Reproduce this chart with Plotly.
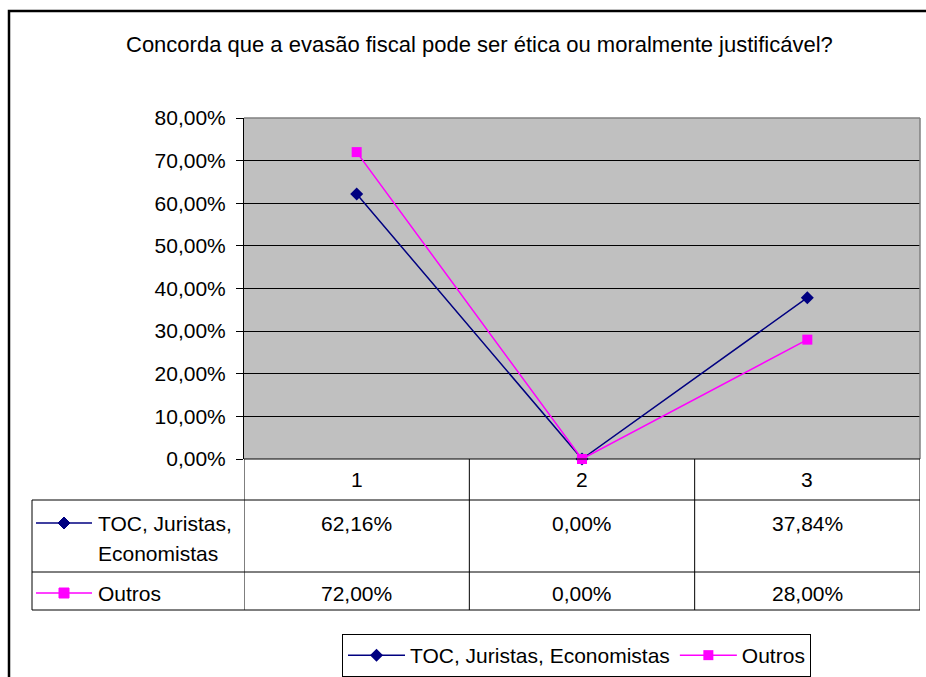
import plotly.graph_objects as go

categories = ["1", "2", "3"]
series_names = ["TOC, Juristas, Economistas", "Outros"]
toc_values = [0.6216, 0.0, 0.3784]
outros_values = [0.72, 0.0, 0.28]
y_ticks = [0, 0.1, 0.2, 0.3, 0.4, 0.5, 0.6, 0.7, 0.8]
title_text = "Concorda que a evasão fiscal pode ser ética ou moralmente justificável?"

W, H = 926, 677
FONT = "Liberation Sans, Arial, sans-serif"
FS = 21
NAVY = "#000080"
MAGENTA = "#FF00FF"

def px(x):
    return x / W

def py(y):
    return 1 - y / H

plot_left, plot_right, plot_top, plot_bottom = 244, 920, 118, 459

fig = go.Figure()
xs = [1, 2, 3]
fig.add_trace(go.Scatter(x=xs, y=toc_values, name=series_names[0], mode="lines+markers",
                         line=dict(color=NAVY, width=1.5),
                         marker=dict(symbol="diamond", size=10, color=NAVY), cliponaxis=False))
fig.add_trace(go.Scatter(x=xs, y=outros_values, name=series_names[1], mode="lines+markers",
                         line=dict(color=MAGENTA, width=1.5),
                         marker=dict(symbol="square", size=10, color=MAGENTA), cliponaxis=False))

fig.update_layout(
    width=W, height=H,
    margin=dict(l=0, r=0, t=0, b=0, autoexpand=False),
    paper_bgcolor="white",
    plot_bgcolor="#C0C0C0",
    separators=",.",
    font=dict(family=FONT, size=FS, color="black"),
    showlegend=True,
    legend=dict(orientation="h", x=px(342), y=py(634), xanchor="left", yanchor="top",
                bordercolor="black", borderwidth=1, bgcolor="white",
                font=dict(family=FONT, size=FS), itemwidth=57, tracegroupgap=0),
    xaxis=dict(domain=[px(plot_left), px(plot_right)], range=[0.5, 3.5],
               tickvals=xs, showticklabels=False, showgrid=False, zeroline=False,
               showline=False, ticks="", fixedrange=True),
    yaxis=dict(domain=[py(plot_bottom), py(plot_top)], range=[0, 0.8],
               tickvals=y_ticks, tickformat=".2%", showgrid=True, gridcolor="#000000",
               gridwidth=1, zeroline=False, showline=True, linecolor="black", linewidth=1,
               ticks="outside", ticklen=7, tickcolor="black", ticklabelstandoff=6,
               tickfont=dict(family=FONT, size=FS), fixedrange=True),
)

shapes = []
# outer chart frame
shapes.append(dict(type="rect", xref="paper", yref="paper", x0=px(9), x1=px(940), y0=py(11), y1=py(700),
                   line=dict(color="black", width=2.5)))
# plot area border (gray) top and right
shapes.append(dict(type="line", xref="paper", yref="paper", x0=px(plot_left), x1=px(plot_right),
                   y0=py(plot_top), y1=py(plot_top), line=dict(color="#808080", width=1.5)))
shapes.append(dict(type="line", xref="paper", yref="paper", x0=px(plot_right), x1=px(plot_right),
                   y0=py(plot_top), y1=py(plot_bottom), line=dict(color="#808080", width=1.5)))
# table grid
row_lines = [459, 500, 572, 610]
table_left = 32
for i, y in enumerate(row_lines):
    x0 = plot_left if i == 0 else table_left
    shapes.append(dict(type="line", xref="paper", yref="paper", x0=px(x0), x1=px(plot_right),
                       y0=py(y), y1=py(y), line=dict(color="black", width=1)))
for xv in [0.5, 1.5, 2.5, 3.5]:
    shapes.append(dict(type="line", xref="x", yref="paper", x0=xv, x1=xv,
                       y0=py(459), y1=py(610), line=dict(color="black", width=1)))
shapes.append(dict(type="line", xref="paper", yref="paper", x0=px(table_left), x1=px(table_left),
                   y0=py(500), y1=py(610), line=dict(color="black", width=1)))
# row header legend keys
key_rows = [(523, NAVY, "diamond"), (593, MAGENTA, "square")]
for yk, col, sym in key_rows:
    shapes.append(dict(type="line", xref="paper", yref="paper", x0=px(36), x1=px(92),
                       y0=py(yk), y1=py(yk), line=dict(color=col, width=1.5)))
    if sym == "diamond":
        cx, cy, r = 64, yk, 6
        path = (f"M{px(cx - r)},{py(cy)} L{px(cx)},{py(cy - r)} L{px(cx + r)},{py(cy)} "
                f"L{px(cx)},{py(cy + r)} Z")
        shapes.append(dict(type="path", xref="paper", yref="paper", path=path,
                           fillcolor=col, line=dict(color=col, width=1)))
    else:
        cx, cy, r = 64, yk, 5
        shapes.append(dict(type="rect", xref="paper", yref="paper", x0=px(cx - r), x1=px(cx + r),
                           y0=py(cy - r), y1=py(cy + r), fillcolor=col, line=dict(color=col, width=1)))
fig.update_layout(shapes=shapes)

annotations = []
annotations.append(dict(text=title_text, x=px(479), y=py(45), xref="paper", yref="paper",
                        showarrow=False, xanchor="center", yanchor="middle",
                        font=dict(family=FONT, size=FS + 1)))

def fmt(v):
    return f"{v * 100:.2f}%".replace(".", ",")

# category header row
for xv, cat in zip(xs, categories):
    annotations.append(dict(text=cat, x=xv, y=py(479), xref="x", yref="paper",
                            showarrow=False, xanchor="center", yanchor="middle",
                            font=dict(family=FONT, size=FS)))

row_label_lines = [["TOC, Juristas,", "Economistas"], ["Outros"]]
row_y = [523, 593]
for vals, ry in zip([toc_values, outros_values], row_y):
    for xv, v in zip(xs, vals):
        annotations.append(dict(text=fmt(v), x=xv, y=py(ry), xref="x", yref="paper",
                                showarrow=False, xanchor="center", yanchor="middle",
                                font=dict(family=FONT, size=FS)))
label_pos = [(row_label_lines[0][0], 523), (row_label_lines[0][1], 553), (row_label_lines[1][0], 593)]
for txt, yy in label_pos:
    annotations.append(dict(text=txt, x=px(96), y=py(yy), xref="paper", yref="paper",
                            showarrow=False, xanchor="left", yanchor="middle",
                            font=dict(family=FONT, size=FS)))
fig.update_layout(annotations=annotations)

fig.write_html("out.html", config={"displayModeBar": False},
               post_script="document.body.style.margin='0px';")
